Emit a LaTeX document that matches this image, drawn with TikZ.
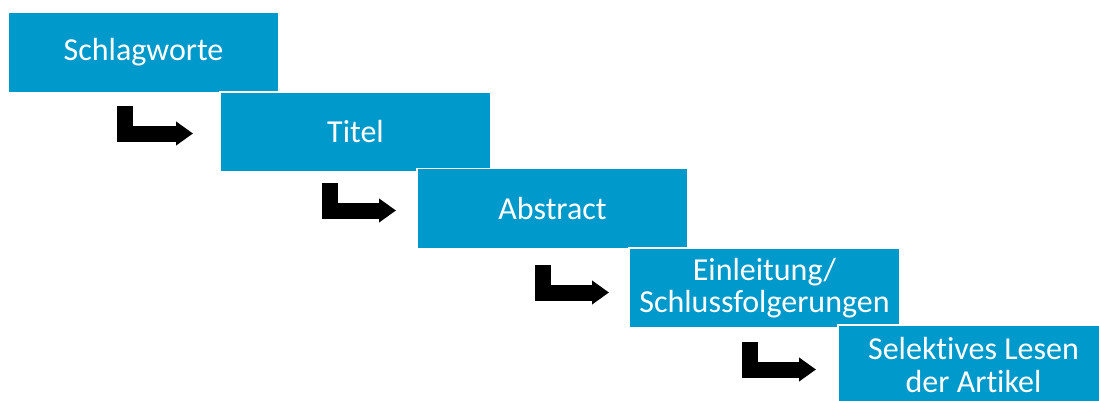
\documentclass[tikz,border=0pt]{standalone}
\usepackage{fontspec}
\setmainfont{Carlito}[Ligatures=NoCommon]
\usetikzlibrary{arrows.meta}
\definecolor{boxblue}{RGB}{0,153,204}

\begin{document}
\begin{tikzpicture}[x=1pt, y=-1pt,
    main/.style = {fill=boxblue, draw=white, line width=1.5pt, text=white,
        minimum width=271pt, minimum height=80pt, inner sep=0pt, align=center,
        font=\fontsize{32}{32.5}\selectfont},
    bent/.style = {line width=16pt, draw=black,
        -{Triangle[width=23pt,length=17pt]}}]
        \useasboundingbox (0,0) rectangle (1099,401);

        \node[main] (1) at (143.5,52.5) {Schlagworte};
        \node[main] (2) at (355.5,132) {Titel};
        \node[main] (3) at (552.5,208.5) {Abstract};
        \node[main] (4) at (764.5,288) {Einleitung/\\Schlussfolgerungen};
        \node[main] (5) at (973.5,365) {Selektives Lesen\\der Artikel};

        \coordinate (a1) at (125,106); \coordinate (b1) at (193,133.5);
        \coordinate (a2) at (330,183); \coordinate (b2) at (396,210.5);
        \coordinate (a3) at (543,265); \coordinate (b3) at (609,292.5);
        \coordinate (a4) at (750,342); \coordinate (b4) at (816,369.5);

        \draw[bent] (a1) |- (b1);
        \draw[bent] (a2) |- (b2);
        \draw[bent] (a3) |- (b3);
        \draw[bent] (a4) |- (b4);

    \end{tikzpicture}
\end{document}
